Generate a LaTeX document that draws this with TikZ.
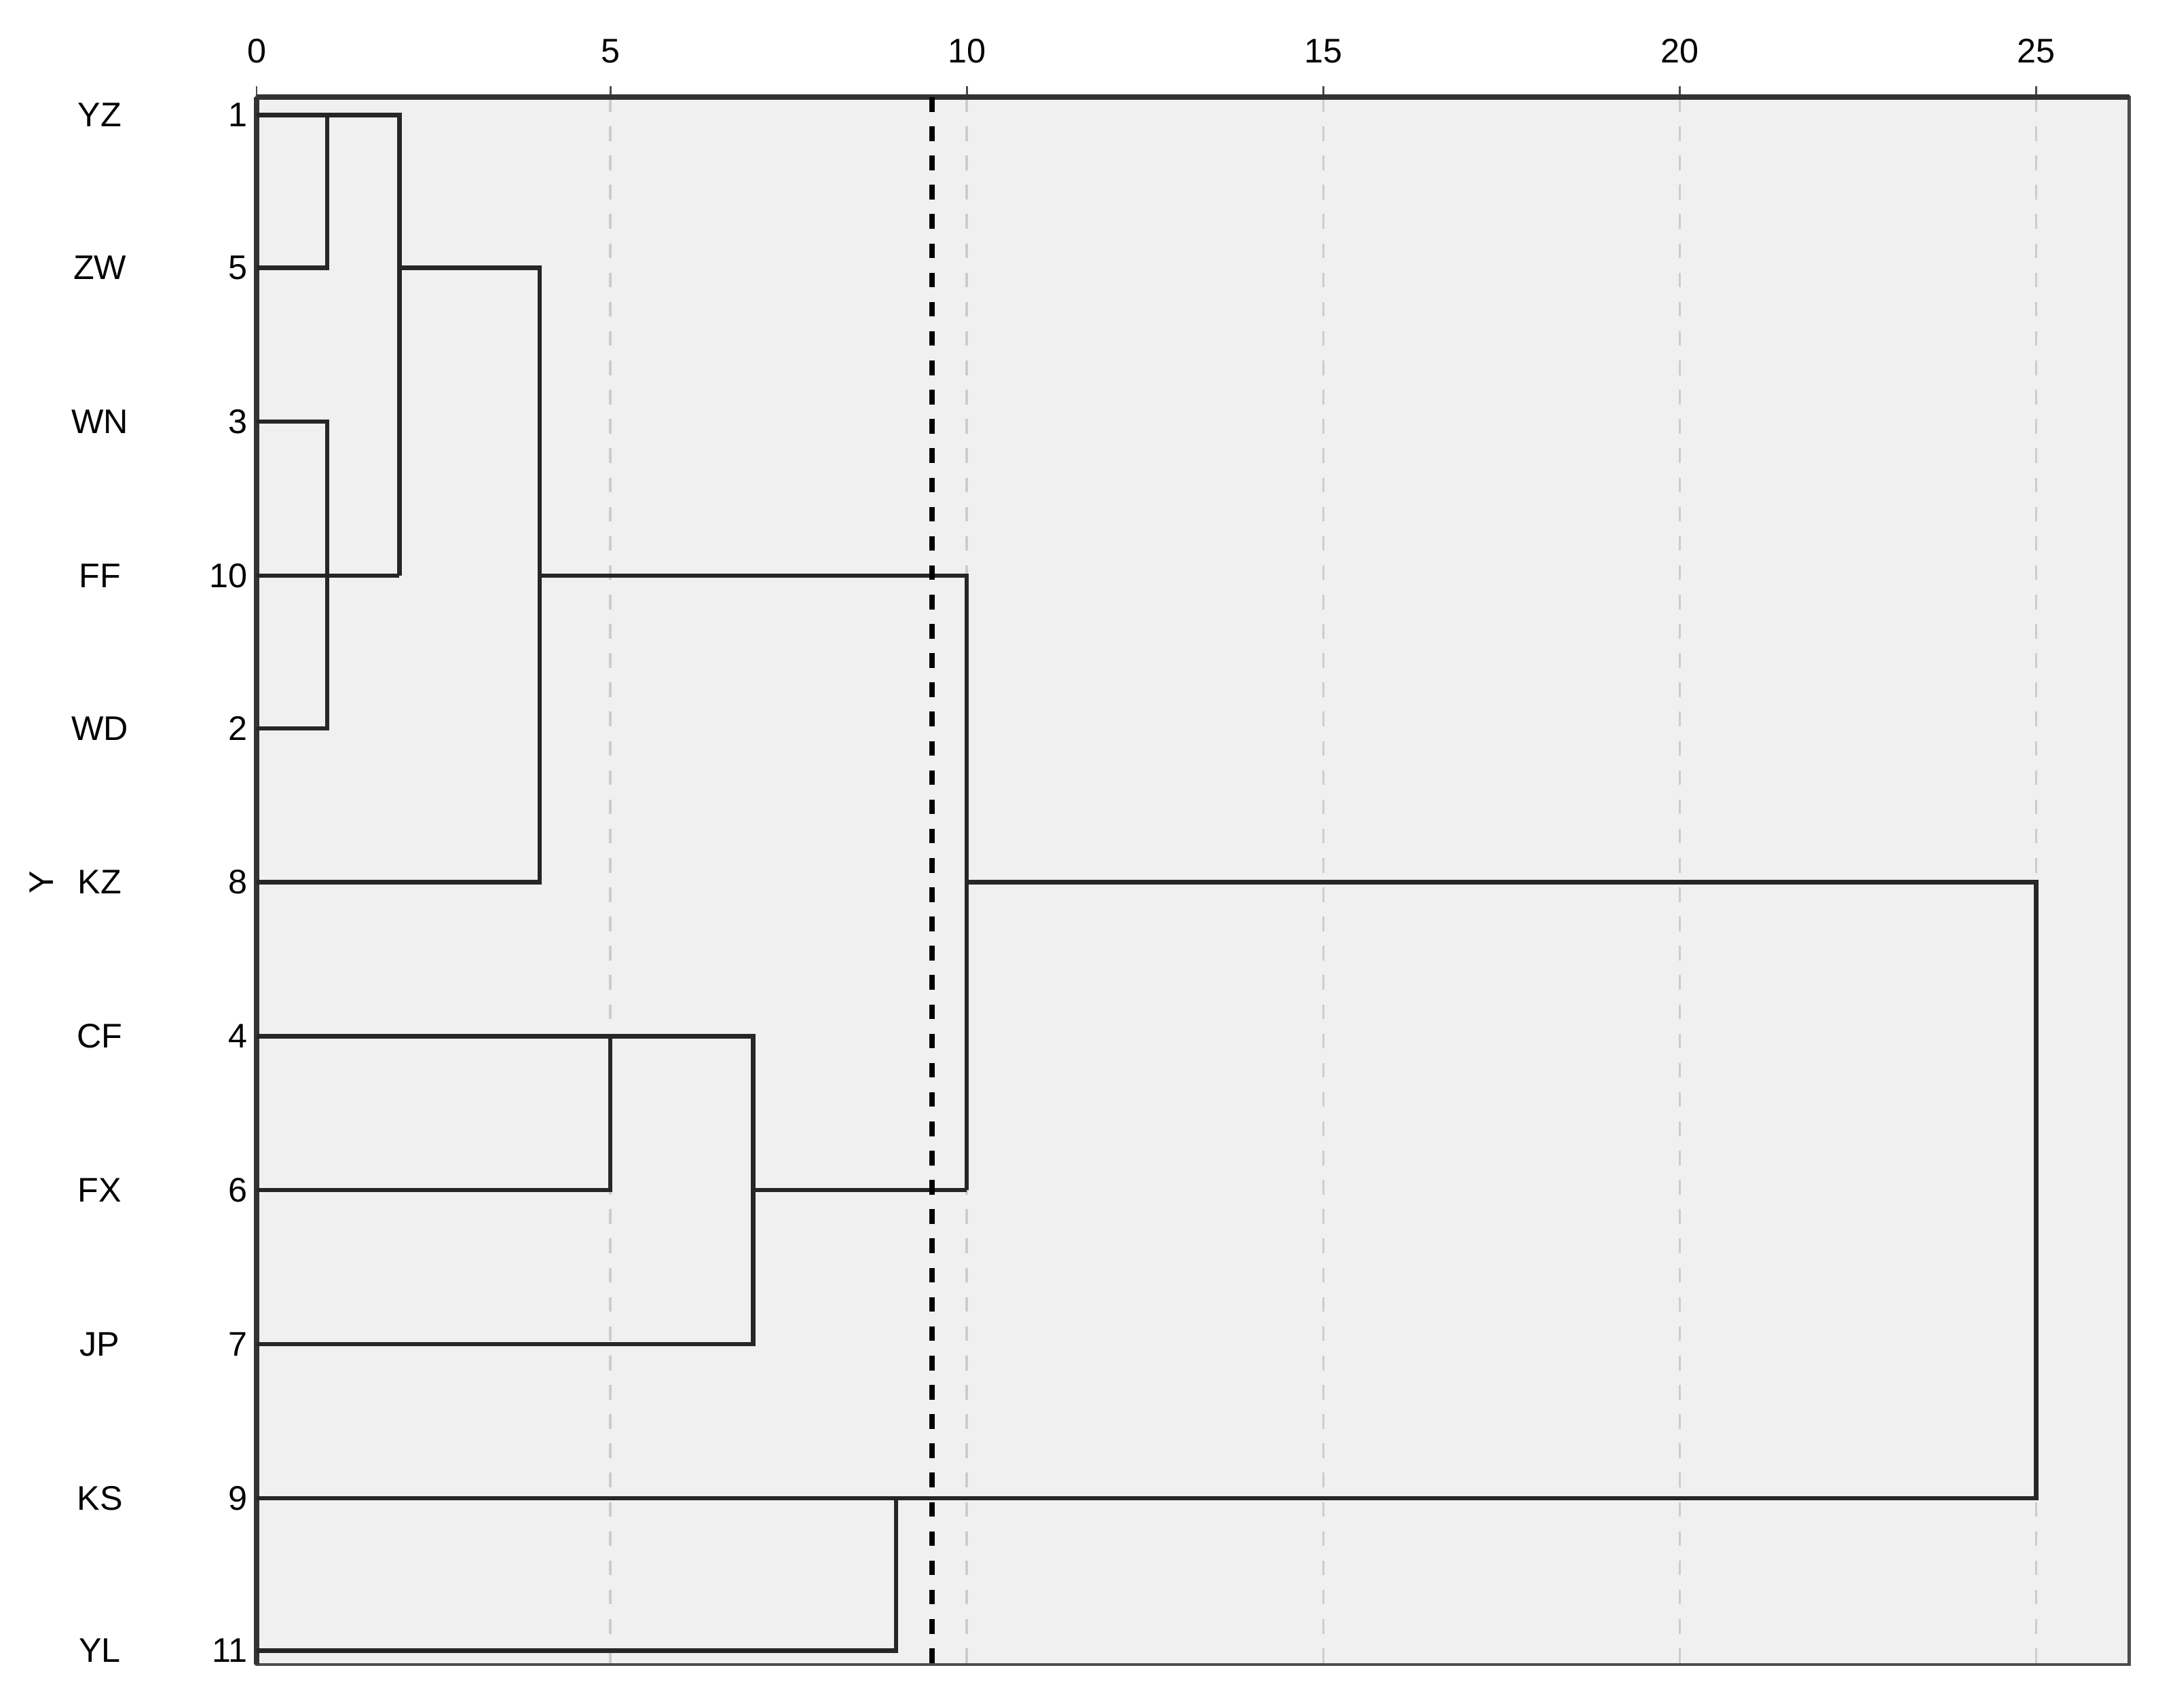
\documentclass[tikz,border=0pt]{standalone}
\usepackage{fontspec}
\setmainfont{Liberation Sans}
\begin{document}
\begin{tikzpicture}[x=0.01cm,y=-0.01cm,
  lab/.style={font=\fontsize{7}{8}\selectfont,inner sep=0pt},
  grid/.style={gray!40,dashed,line width=0.5pt},
  den/.style={black!85,line width=0.9pt}]
\useasboundingbox (0,0) rectangle (1568,1231);
\fill[white] (0,0) rectangle (1568,1231);
\fill[black!6] (185,70) rectangle (1535,1200);
\foreach \v/\x in {5/440,10/697,15/954,20/1211,25/1468}{\draw[grid] (\x,70)--(\x,1200);}
\foreach \v/\x in {0/185,5/440,10/697,15/954,20/1211,25/1468}{
  \node[lab] at (\x,37) {\v};
  \draw[black!70] (\x,70)--(\x,62);}
\draw[black!70,line width=0.6pt] (185,70) rectangle (1535,1200);
\draw[black!80,line width=1pt] (185,70)--(1535,70);
\draw[black!80,line width=1pt] (185,70)--(185,1200);
\foreach \n/\k/\y in {YZ/1/83,ZW/5/193,WN/3/304,FF/10/415,WD/2/525,KZ/8/636,CF/4/747,FX/6/858,JP/7/969,KS/9/1080,YL/11/1190}{
  \node[lab] at (72,\y) {\n};
  \node[lab,anchor=east] at (179,\y) {\k};}
\node[lab,rotate=90] at (30,636) {Y};
% dendrogram
\draw[den] (185,83)--(288,83)--(288,415);
\draw[den] (185,193)--(236,193)--(236,83);
\draw[den] (185,304)--(236,304)--(236,525)--(185,525);
\draw[den] (185,415)--(288,415);
\draw[den] (288,193)--(389,193)--(389,636)--(185,636);
\draw[den] (389,415)--(697,415)--(697,858);
\draw[den] (185,747)--(440,747)--(440,858)--(185,858);
\draw[den] (440,747)--(543,747)--(543,969)--(185,969);
\draw[den] (543,858)--(697,858);
\draw[den] (697,636)--(1468,636)--(1468,1080)--(185,1080);
\draw[den] (185,1190)--(646,1190)--(646,1080);
\draw[black,dashed,line width=1.1pt] (672,70)--(672,1200);
\end{tikzpicture}
\end{document}
